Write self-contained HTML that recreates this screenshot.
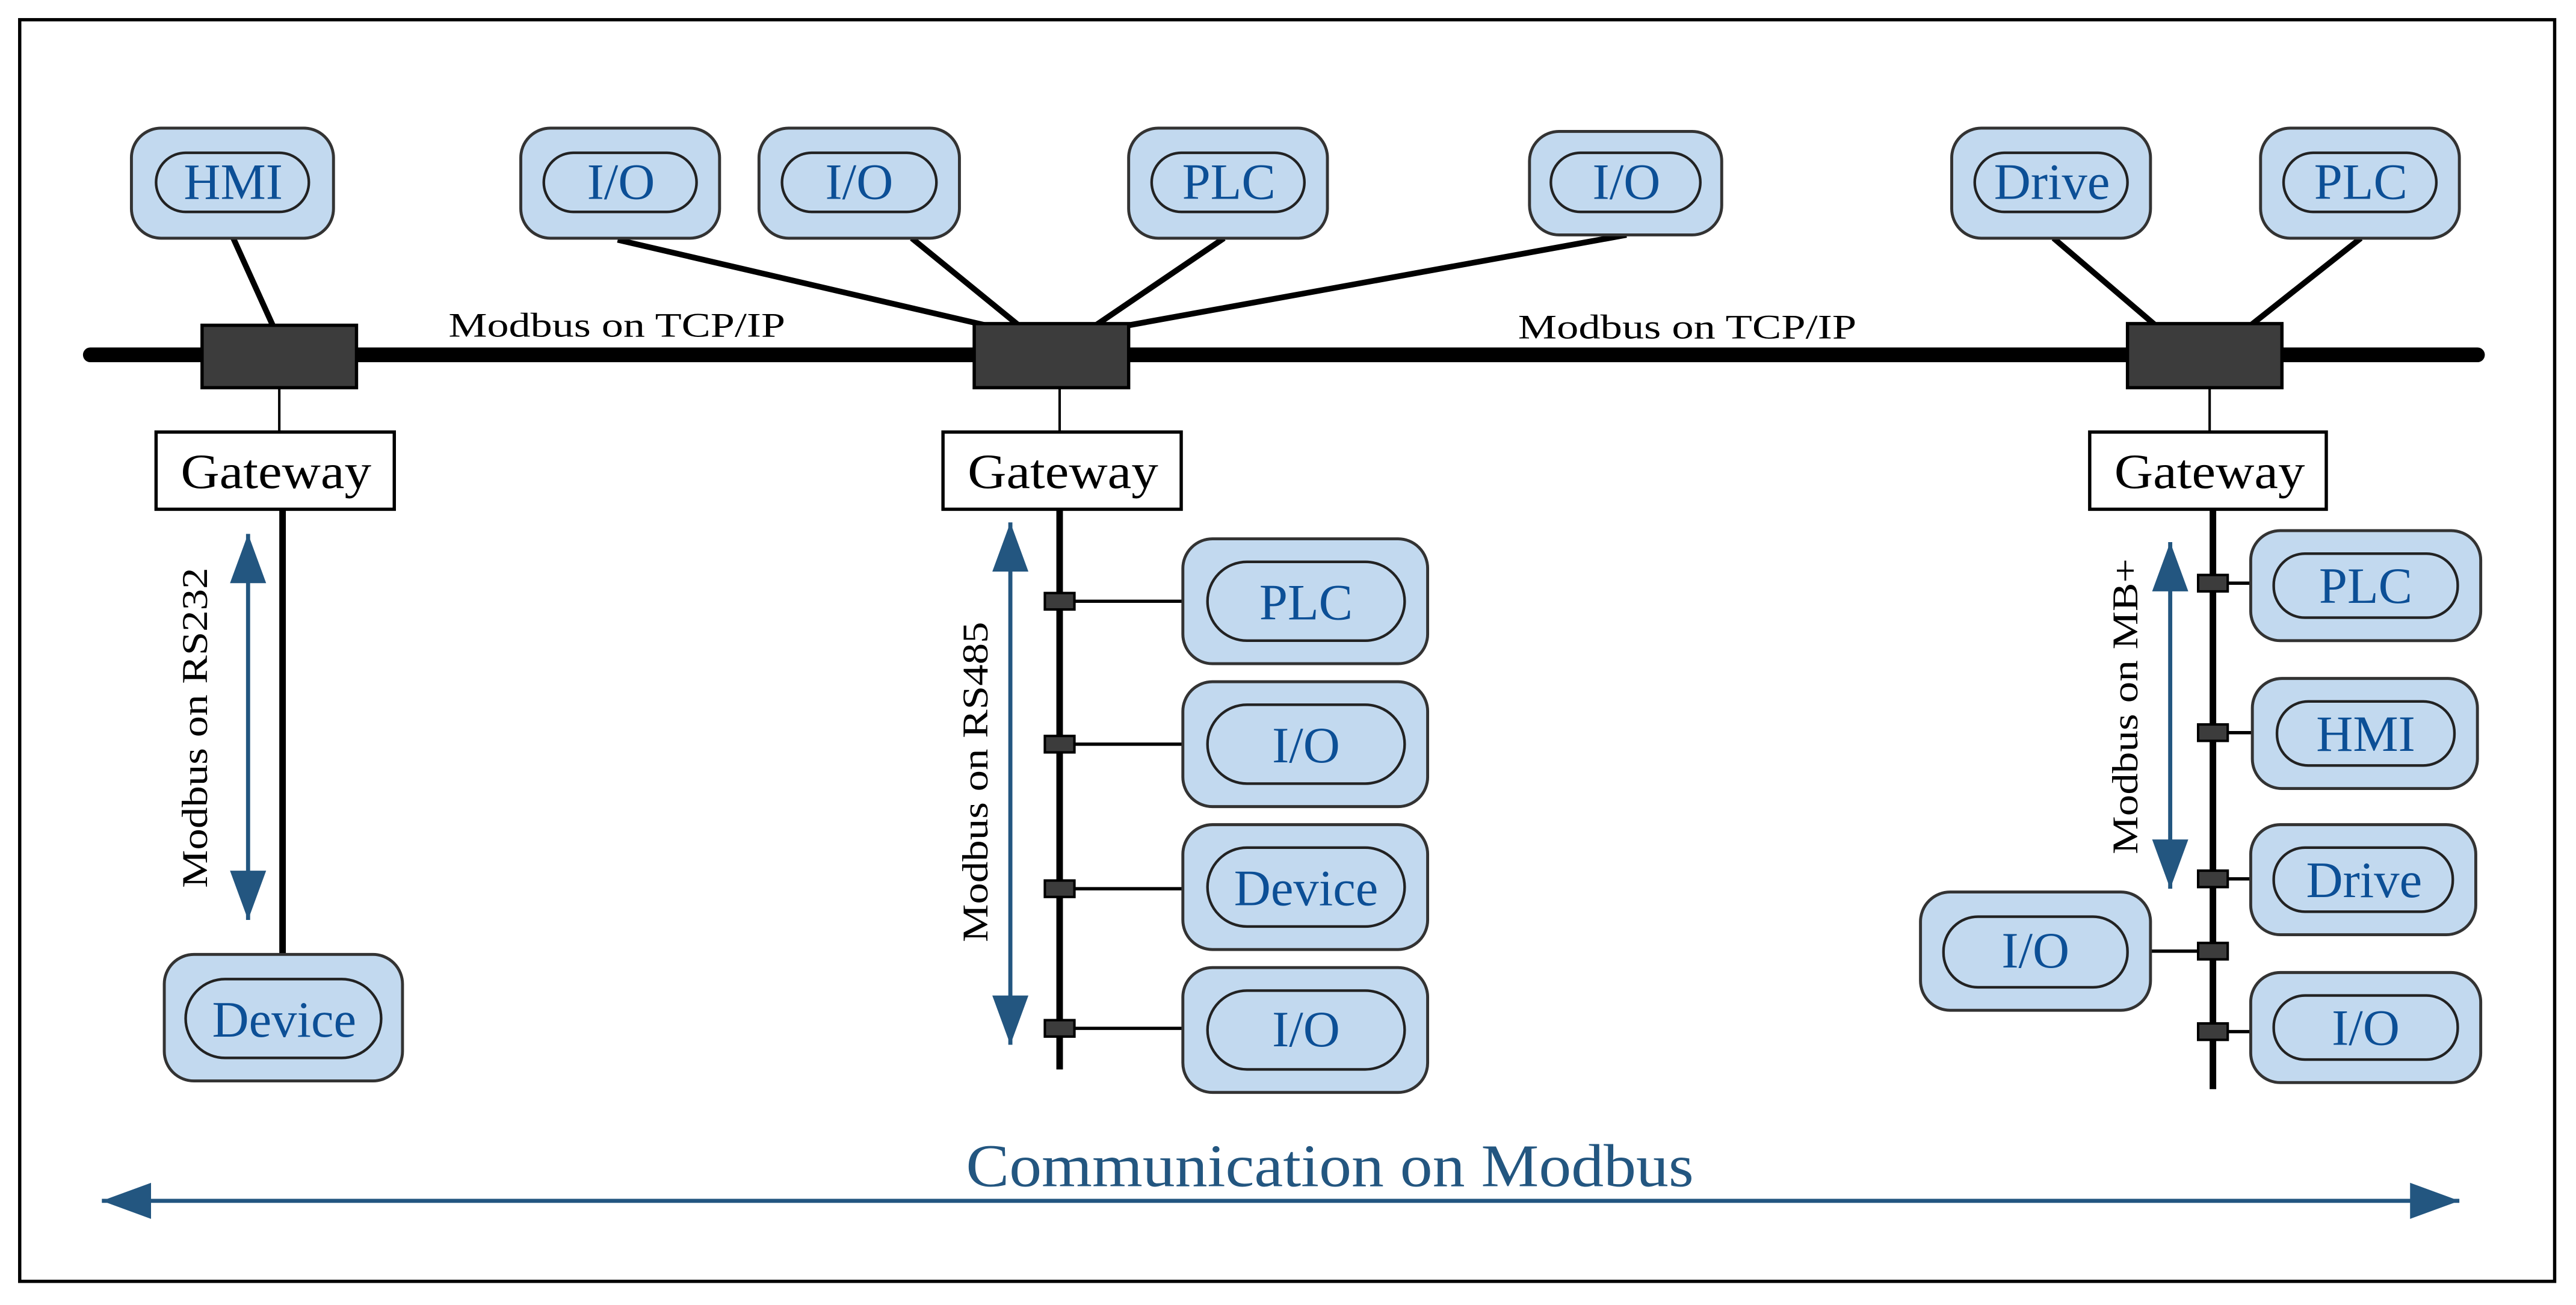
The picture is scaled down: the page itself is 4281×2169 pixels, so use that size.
<!DOCTYPE html>
<html><head><style>html,body{margin:0;padding:0;background:#fff}svg{display:block}</style></head><body>
<svg width="4281" height="2169" viewBox="0 0 1568 794.4" preserveAspectRatio="none" xmlns="http://www.w3.org/2000/svg" font-family="'Liberation Serif', serif">
<defs>
<marker id="ah" viewBox="0 0 30 22" refX="30" refY="11" markerWidth="30" markerHeight="22" markerUnits="userSpaceOnUse" orient="auto-start-reverse"><path d="M0,0 L30,11 L0,22 z" fill="#235680"/></marker>
</defs>
<rect x="12" y="12" width="1543" height="768" fill="#fff" stroke="#000" stroke-width="2"/>
<g stroke="#000" stroke-width="3.5">
<line x1="142" y1="145" x2="166" y2="198"/>
<line x1="376" y1="146" x2="600" y2="198"/>
<line x1="555" y1="145" x2="620" y2="198"/>
<line x1="745" y1="145" x2="667" y2="198"/>
<line x1="990" y1="143" x2="687" y2="198"/>
<line x1="1250" y1="145" x2="1312" y2="198"/>
<line x1="1437" y1="145" x2="1370" y2="198"/>
</g>
<line x1="55" y1="216" x2="1508" y2="216" stroke="#000" stroke-width="9" stroke-linecap="round"/>
<g fill="#3c3c3c" stroke="#000" stroke-width="2">
<rect x="123" y="198" width="94" height="38"/>
<rect x="593" y="197" width="94" height="39"/>
<rect x="1295" y="197" width="94" height="39"/>
</g>
<g stroke="#000" stroke-width="1.5">
<line x1="170" y1="236" x2="170" y2="263"/>
<line x1="645" y1="236" x2="645" y2="263"/>
<line x1="1345" y1="236" x2="1345" y2="263"/>
</g>
<g font-size="21" fill="#000">
<text x="273" y="205" textLength="205" lengthAdjust="spacingAndGlyphs">Modbus on TCP/IP</text>
<text x="924" y="206" textLength="206" lengthAdjust="spacingAndGlyphs">Modbus on TCP/IP</text>
</g>
<g fill="#fff" stroke="#000" stroke-width="2">
<rect x="95" y="263" width="145" height="47"/>
<rect x="574" y="263" width="145" height="47"/>
<rect x="1272" y="263" width="144" height="47"/>
</g>
<g font-size="30" fill="#000">
<text x="110" y="297" textLength="116" lengthAdjust="spacingAndGlyphs">Gateway</text>
<text x="589" y="297" textLength="116" lengthAdjust="spacingAndGlyphs">Gateway</text>
<text x="1287" y="297" textLength="116" lengthAdjust="spacingAndGlyphs">Gateway</text>
</g>
<g stroke="#000" stroke-width="4">
<line x1="172" y1="310" x2="172" y2="581"/>
<line x1="645" y1="310" x2="645" y2="651"/>
<line x1="1347" y1="310" x2="1347" y2="663"/>
</g>
<g stroke="#000" stroke-width="2">
<line x1="645" y1="366" x2="720" y2="366"/>
<line x1="645" y1="453" x2="720" y2="453"/>
<line x1="645" y1="541" x2="720" y2="541"/>
<line x1="645" y1="626" x2="720" y2="626"/>
<line x1="1347" y1="355" x2="1371" y2="355"/>
<line x1="1347" y1="446" x2="1371" y2="446"/>
<line x1="1347" y1="535" x2="1371" y2="535"/>
<line x1="1309" y1="579" x2="1347" y2="579"/>
<line x1="1347" y1="628" x2="1371" y2="628"/>
</g>
<g fill="#3c3c3c" stroke="#000" stroke-width="1.5">
<rect x="636" y="361" width="18" height="10"/>
<rect x="636" y="448" width="18" height="10"/>
<rect x="636" y="536" width="18" height="10"/>
<rect x="636" y="621" width="18" height="10"/>
<rect x="1338" y="350" width="18" height="10"/>
<rect x="1338" y="441" width="18" height="10"/>
<rect x="1338" y="530" width="18" height="10"/>
<rect x="1338" y="574" width="18" height="10"/>
<rect x="1338" y="623" width="18" height="10"/>
</g>
<g stroke="#235680" stroke-width="2.5" fill="none">
<line x1="151" y1="325" x2="151" y2="560" marker-start="url(#ah)" marker-end="url(#ah)"/>
<line x1="615" y1="318" x2="615" y2="636" marker-start="url(#ah)" marker-end="url(#ah)"/>
<line x1="1321" y1="330" x2="1321" y2="541" marker-start="url(#ah)" marker-end="url(#ah)"/>
<line x1="62" y1="731" x2="1497" y2="731" marker-start="url(#ah)" marker-end="url(#ah)"/>
</g>
<g font-size="22" text-anchor="middle" fill="#000">
<text transform="translate(126,443) rotate(-90)" textLength="195" lengthAdjust="spacingAndGlyphs">Modbus on RS232</text>
<text transform="translate(601,476) rotate(-90)" textLength="195" lengthAdjust="spacingAndGlyphs">Modbus on RS485</text>
<text transform="translate(1301,430) rotate(-90)" textLength="180" lengthAdjust="spacingAndGlyphs">Modbus on MB+</text>
</g>
<text x="588" y="722" font-size="37" fill="#235680" textLength="443" lengthAdjust="spacingAndGlyphs">Communication on Modbus</text>
<g fill="#c2d9ef" stroke="#333" stroke-width="1.8">
<rect x="80" y="78" width="123" height="67" rx="18"/>
<rect x="317" y="78" width="121" height="67" rx="18"/>
<rect x="462" y="78" width="122" height="67" rx="18"/>
<rect x="687" y="78" width="121" height="67" rx="18"/>
<rect x="931" y="80" width="117" height="63" rx="18"/>
<rect x="1188" y="78" width="121" height="67" rx="18"/>
<rect x="1376" y="78" width="121" height="67" rx="18"/>
<rect x="100" y="581" width="145" height="77" rx="18"/>
<rect x="720" y="328" width="149" height="76" rx="18"/>
<rect x="720" y="415" width="149" height="76" rx="18"/>
<rect x="720" y="502" width="149" height="76" rx="18"/>
<rect x="720" y="589" width="149" height="76" rx="18"/>
<rect x="1370" y="323" width="140" height="67" rx="18"/>
<rect x="1371" y="413" width="137" height="67" rx="18"/>
<rect x="1370" y="502" width="137" height="67" rx="18"/>
<rect x="1370" y="592" width="140" height="67" rx="18"/>
<rect x="1169" y="543" width="140" height="72" rx="18"/>
</g>
<g fill="none" stroke="#222" stroke-width="1.6">
<rect x="95" y="93" width="93" height="36" rx="18"/>
<rect x="331" y="93" width="93" height="36" rx="18"/>
<rect x="476" y="93" width="94" height="36" rx="18"/>
<rect x="701" y="93" width="93" height="36" rx="18"/>
<rect x="944" y="93" width="91" height="36" rx="18"/>
<rect x="1202" y="93" width="93" height="36" rx="18"/>
<rect x="1390" y="93" width="93" height="36" rx="18"/>
<rect x="113" y="596" width="119" height="48" rx="24"/>
<rect x="735" y="342" width="120" height="48" rx="24"/>
<rect x="735" y="429" width="120" height="48" rx="24"/>
<rect x="735" y="516" width="120" height="48" rx="24"/>
<rect x="735" y="603" width="120" height="48" rx="24"/>
<rect x="1384" y="337" width="112" height="39" rx="19"/>
<rect x="1386" y="427" width="108" height="39" rx="19"/>
<rect x="1384" y="516" width="109" height="39" rx="19"/>
<rect x="1384" y="606" width="112" height="39" rx="19"/>
<rect x="1183" y="558" width="112" height="43" rx="21"/>
</g>
<g font-size="31" text-anchor="middle" fill="#0c4f96">
<text x="142" y="121">HMI</text>
<text x="378" y="121">I/O</text>
<text x="523" y="121">I/O</text>
<text x="748" y="121">PLC</text>
<text x="990" y="121">I/O</text>
<text x="1249" y="121">Drive</text>
<text x="1437" y="121">PLC</text>
<text x="173" y="631">Device</text>
<text x="795" y="377">PLC</text>
<text x="795" y="464">I/O</text>
<text x="795" y="551">Device</text>
<text x="795" y="637">I/O</text>
<text x="1440" y="367">PLC</text>
<text x="1440" y="457">HMI</text>
<text x="1439" y="546">Drive</text>
<text x="1440" y="636">I/O</text>
<text x="1239" y="589">I/O</text>
</g>
</svg>
</body></html>
